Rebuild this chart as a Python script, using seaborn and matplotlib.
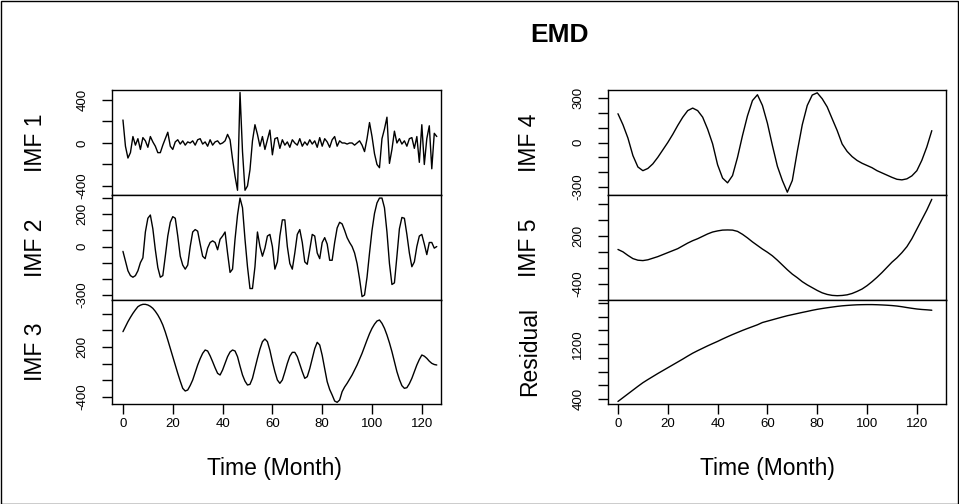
import numpy as np
import matplotlib
matplotlib.use("Agg")
import matplotlib.pyplot as plt
from matplotlib.patches import Rectangle
import seaborn as sns

# time axis (months) - fine grid for the noisy IMFs, 2-month grid for the smooth ones
months = np.arange(0, 127)
months_2 = np.arange(0, 127, 2)

imf1 = [214, -30, -140, -90, 60, -20, 40, -60, 50, 20,
        -40, 60, 10, -30, -90, -90, -20, 40, 100, -30,
        -60, 10, 30, -10, 20, -20, 10, 0, 20, -20,
        30, 40, -10, 10, -30, 30, -20, 10, 20, -10,
        0, 20, 80, 30, -150, -310, -440, 470, -80, -440,
        -400, -250, 20, 170, 80, -30, 60, -60, 30, 120,
        -110, 40, 50, -50, 30, -20, 10, -40, 30, 0,
        -20, 40, -30, 10, -20, 30, -10, 20, -40, 50,
        -30, 40, 10, -40, 30, 60, -30, 20, 0, 0,
        -10, 0, 0, -20, 0, 20, -20, -80, 40, 190,
        60, -100, -200, -230, 40, 130, 240, -190, -60, 110,
        0, 40, -10, 20, -30, 40, 50, -50, 60, -180,
        170, -200, 40, 160, -240, 90, 60]

imf2 = [-30, -90, -150, -180, -190, -180, -150, -100, -70, 90,
        175, 195, 110, -20, -130, -190, -180, -60, 65, 150,
        185, 175, 65, -60, -115, -140, -115, 0, 90, 105,
        95, 15, -60, -75, -10, 25, 35, 25, -20, 45,
        65, 90, -40, -160, -140, 45, 195, 300, 240, 45,
        -125, -260, -260, -125, 90, 0, -60, -10, 65, 75,
        0, -140, -95, 65, 165, 165, 0, -105, -140, -40,
        75, 105, 25, -95, -110, -20, 75, 65, -40, -75,
        25, 55, 15, -85, -85, 25, 115, 150, 140, 100,
        55, 25, 0, -40, -105, -200, -310, -300, -190, -40,
        100, 205, 270, 300, 300, 240, 90, -105, -235, -225,
        -60, 110, 180, 175, 75, -40, -125, -95, 0, 65,
        75, 15, -50, 25, 25, -10, 0]

imf3 = [384, 444, 504, 556, 604, 646, 684, 702, 712, 712,
        704, 688, 664, 628, 584, 530, 464, 380, 284, 184,
        84, -16, -116, -210, -296, -328, -316, -262, -196, -106,
        -16, 60, 124, 164, 152, 94, 24, -50, -116, -136,
        -76, 4, 84, 140, 164, 152, 84, -30, -136, -210,
        -256, -248, -176, -56, 64, 176, 264, 296, 264, 160,
        24, -96, -196, -236, -196, -100, 4, 90, 136, 136,
        84, -6, -96, -176, -156, -60, 60, 180, 256, 224,
        100, -60, -216, -310, -376, -448, -464, -436, -336, -280,
        -236, -186, -136, -76, -16, 54, 124, 204, 284, 360,
        424, 474, 512, 524, 484, 424, 344, 250, 144, 24,
        -96, -190, -264, -296, -288, -240, -176, -96, -16, 50,
        104, 90, 64, 30, 4, -10, -16]

imf4 = [194, 120, 30, -88, -165, -190, -175, -144, -100, -50,
        0, 55, 115, 170, 215, 232, 215, 171, 90, -9,
        -150, -240, -272, -223, -100, 47, 180, 283, 322, 250,
        130, -20, -160, -256, -335, -256, -60, 120, 250, 320,
        335, 295, 240, 160, 81, -10, -60, -95, -121, -140,
        -155, -170, -190, -205, -220, -235, -248, -252, -245, -225,
        -190, -120, -30, 80]

imf5 = [35, 5, -40, -80, -100, -105, -95, -75, -55, -30,
        -5, 20, 45, 80, 115, 145, 170, 200, 230, 254,
        268, 278, 280, 278, 262, 225, 180, 130, 85, 40,
        0, -45, -100, -160, -220, -275, -320, -370, -410, -445,
        -480, -510, -530, -542, -546, -543, -535, -518, -492, -462,
        -420, -370, -315, -255, -190, -125, -70, -5, 70, 170,
        290, 410, 530, 665]

residual = [365, 420, 475, 530, 585, 638, 684, 728, 772, 814,
            856, 898, 940, 982, 1026, 1068, 1105, 1140, 1175, 1208,
            1240, 1275, 1308, 1340, 1370, 1400, 1428, 1455, 1482, 1515,
            1535, 1555, 1575, 1595, 1614, 1630, 1646, 1662, 1677, 1693,
            1707, 1719, 1730, 1740, 1750, 1758, 1764, 1769, 1773, 1775,
            1776, 1776, 1774, 1771, 1767, 1762, 1755, 1745, 1733, 1722,
            1712, 1705, 1700, 1694]

x_ticks = [0, 20, 40, 60, 80, 100, 120]

panel_names = ["IMF 1", "IMF 2", "IMF 3", "IMF 4", "IMF 5", "Residual"]
panel_series = [imf1, imf2, imf3, imf4, imf5, residual]
panel_time = [months, months, months, months_2, months_2, months_2]
panel_yticks = [
    [-400, -200, 0, 200, 400],
    [-300, -200, -100, 0, 100, 200, 300],
    [-400, -200, 0, 200, 400, 600],
    [-300, -200, -100, 0, 100, 200, 300],
    [-600, -400, -200, 0, 200, 400, 600],
    [400, 600, 800, 1000, 1200, 1400, 1600, 1800],
]
panel_ylabels = [
    ["-400", "", "0", "", "400"],
    ["-300", "", "", "0", "", "200", ""],
    ["-400", "", "", "200", "", ""],
    ["-300", "", "", "0", "", "", "300"],
    ["", "-400", "", "", "200", "", ""],
    ["400", "", "", "", "1200", "", "", ""],
]
panel_ylim = [(-484, 493), (-331, 319), (-484, 764),
              (-354, 354), (-573, 719), (328, 1843)]

sns.set_style("ticks", {"text.color": "black", "axes.labelcolor": "black",
                        "xtick.color": "black", "ytick.color": "black",
                        "axes.edgecolor": "black"})
plt.rcParams["font.family"] = ["Liberation Sans", "DejaVu Sans"]

W, H = 959, 504
fig = plt.figure(figsize=(W / 100, H / 100), dpi=100)
fig.patches.append(Rectangle((0.5 / W, 0.5 / H), 1 - 1.5 / W, 1 - 1.5 / H,
                             transform=fig.transFigure, fill=False,
                             edgecolor="black", linewidth=1))

col_x = [(112, 441), (608, 946)]
col_label_x = [35, 530]
col_xlabel_x = [274, 767]
row_y = [(90, 195), (195, 300), (300, 404)]
col_xlim = [(-4.4, 127.7), (-4.0, 131.7)]

for i in range(6):
    c, r = divmod(i, 3)
    x0, x1 = col_x[c]
    y0, y1 = row_y[r]
    ax = fig.add_axes([x0 / W, 1 - y1 / H, (x1 - x0) / W, (y1 - y0) / H])
    sns.lineplot(x=panel_time[i], y=panel_series[i], ax=ax,
                 color="black", linewidth=1.0)
    ax.set_xlim(*col_xlim[c])
    ax.set_ylim(*panel_ylim[i])
    ax.set_yticks(panel_yticks[i])
    ax.set_yticklabels(panel_ylabels[i])
    ax.tick_params(axis="y", labelrotation=90, length=7, width=1,
                   pad=10, labelsize=9.5, color="black", labelcolor="black")
    for lbl in ax.get_yticklabels():
        lbl.set_va("center")
    for sp in ax.spines.values():
        sp.set_visible(True)
        sp.set_color("black")
        sp.set_linewidth(1)
    ax.set_ylabel(panel_names[i], fontsize=16.5, va="center", color="black")
    ax.yaxis.set_label_coords(-(x0 - col_label_x[c]) / (x1 - x0), 0.5)
    if r == 2:
        ax.set_xticks(x_ticks)
        ax.set_xticklabels([str(v) for v in x_ticks])
        ax.tick_params(axis="x", length=7, width=1, pad=3, labelsize=9.5,
                       color="black", labelcolor="black")
        ax.set_xlabel("Time (Month)", fontsize=16.5, va="center", color="black")
        ax.xaxis.set_label_coords((col_xlabel_x[c] - x0) / (x1 - x0),
                                  -(468 - y1) / (y1 - y0))
    else:
        ax.set_xticks([])
        ax.set_xlabel("")

fig.text(560 / W, 1 - 35 / H, "EMD", fontsize=19, fontweight="bold",
         ha="center", va="center", color="black")

fig.savefig("out.png", dpi=100)
